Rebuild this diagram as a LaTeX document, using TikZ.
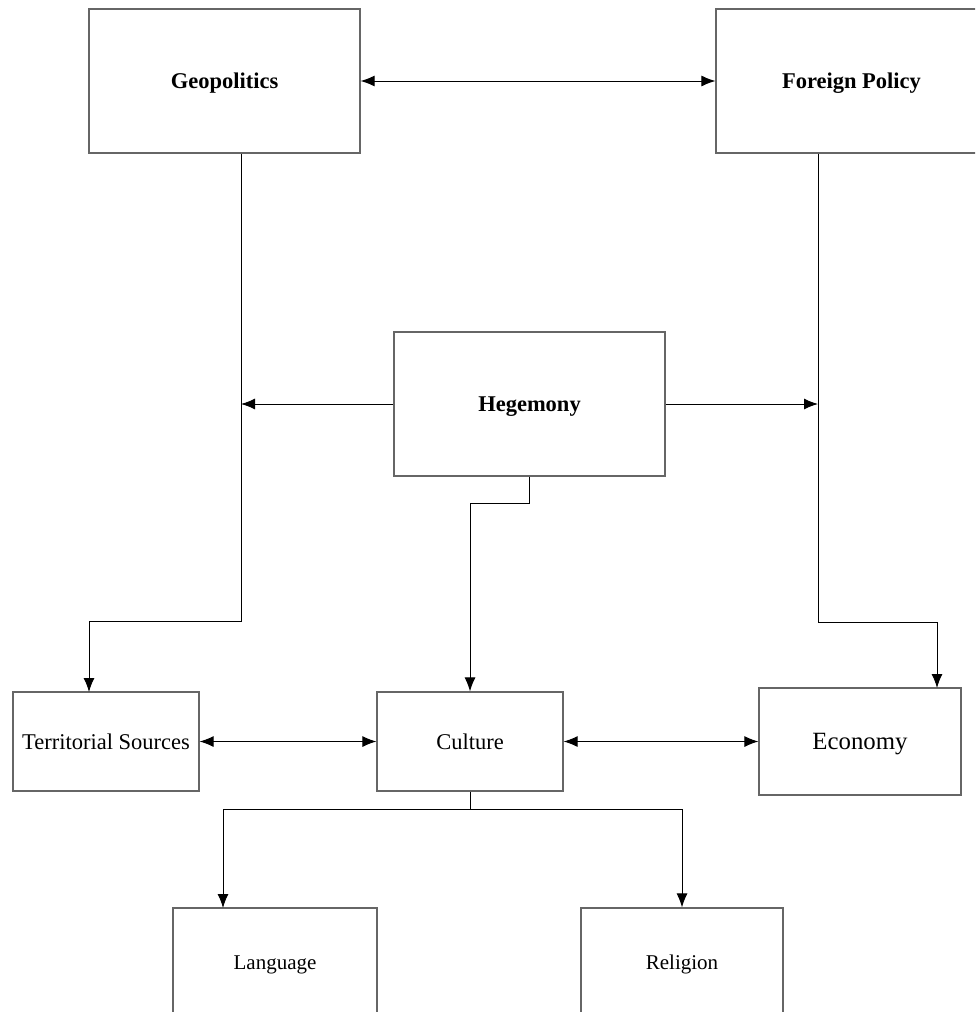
\documentclass[tikz,border=0pt]{standalone}
\usepackage{fontspec}
\setmainfont{Liberation Serif}
\usetikzlibrary{arrows.meta, positioning}

\tikzset{
  box/.style={draw=black!60, line width=0.6pt, rectangle, inner sep=0pt, align=center,
    text height=7.5pt, text depth=0pt, font=\fontsize{11.25}{13}\selectfont},
  bigbox/.style={box, minimum width=135.5pt, minimum height=72pt, font=\fontsize{11.25}{13}\selectfont\bfseries},
  link/.style={line width=0.5pt, -{Latex[length=7pt,width=5.5pt]}},
  twoway/.style={line width=0.5pt, {Latex[length=7pt,width=5.5pt]}-{Latex[length=7pt,width=5.5pt]}}
}

\begin{document}
\begin{tikzpicture}[x=0.5pt, y=-0.5pt]

  \useasboundingbox (0,0) rectangle (975,1012);
  \clip (0,0) rectangle (975,1012);

  % Top boxes
  \node[bigbox] (geo) at (224.5,81) {Geopolitics};
  \node[bigbox] (fp) at (851.5,81) {Foreign Policy};
  \node[bigbox] (heg) at (529.5,404) {Hegemony};

  % Middle row
  \node[box, minimum width=93pt, minimum height=49.5pt] (ter) at (106,741.5) {Territorial Sources};
  \node[box, minimum width=93pt, minimum height=49.5pt] (cul) at (470,741.5) {Culture};
  \node[box, minimum width=101pt, minimum height=53.5pt, font=\fontsize{12.4}{14}\selectfont] (eco) at (860,741.5) {Economy};

  % Bottom row
  \node[box, minimum width=102pt, minimum height=54pt, font=\fontsize{10.5}{12}\selectfont] (lan) at (275,962) {Language};
  \node[box, minimum width=101pt, minimum height=54pt, font=\fontsize{10.5}{12}\selectfont] (rel) at (682,962) {Religion};

  % Bends
  \coordinate (geoDrop) at (241,621);
  \coordinate (fpDrop) at (818,622);
  \coordinate (hegDrop) at (529,503);
  \coordinate (culFork) at (470,809);
  \coordinate (terIn) at (89,692);
  \coordinate (ecoIn) at (937,688);
  \coordinate (lanIn) at (223,908);

  % Connectors
  \draw[twoway] (geo.east) -- (fp.west);
  \draw[link] (geo.south -| geoDrop) -- (geoDrop) -| (terIn);
  \draw[link] (fp.south -| fpDrop) -- (fpDrop) -| (ecoIn);
  \draw[link] (heg.west) -- (heg.west -| geoDrop);
  \draw[link] (heg.east) -- (heg.east -| fpDrop);
  \draw[link] (heg.south -| hegDrop) -- (hegDrop) -| (cul.north);
  \draw[twoway] (ter.east) -- (cul.west);
  \draw[twoway] (cul.east) -- (eco.west);
  \draw[line width=0.5pt] (cul.south) -- (culFork);
  \draw[link] (culFork) -| (lanIn);
  \draw[link] (culFork) -| (rel.north);

\end{tikzpicture}
\end{document}
